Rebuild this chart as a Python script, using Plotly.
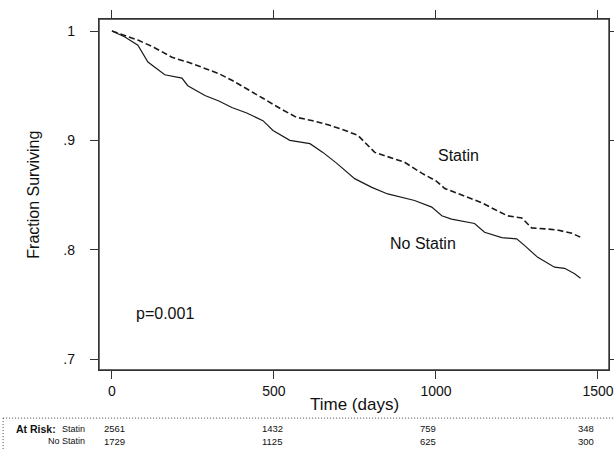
import plotly.graph_objects as go

# Kaplan-Meier estimates
statin_t = [0, 40, 80, 130, 185, 240, 287, 330, 370, 420, 466, 520, 570, 620, 672, 720, 759, 811, 860, 903, 956, 1000, 1027, 1080, 1141, 1180, 1221, 1265, 1295, 1340, 1375, 1420, 1449]
statin_s = [1.0, 0.996, 0.9917, 0.985, 0.976, 0.971, 0.966, 0.961, 0.955, 0.946, 0.9385, 0.929, 0.921, 0.918, 0.9138, 0.909, 0.9046, 0.889, 0.884, 0.880, 0.870, 0.863, 0.856, 0.850, 0.843, 0.837, 0.831, 0.829, 0.820, 0.819, 0.818, 0.815, 0.811]

nostatin_t = [0, 40, 80, 111, 163, 216, 234, 287, 330, 370, 416, 466, 497, 549, 611, 651, 694, 749, 802, 851, 934, 987, 1018, 1048, 1119, 1150, 1203, 1249, 1273, 1314, 1366, 1397, 1428, 1446]
nostatin_s = [1.0, 0.9945, 0.987, 0.9716, 0.960, 0.957, 0.950, 0.941, 0.936, 0.930, 0.925, 0.918, 0.909, 0.900, 0.897, 0.889, 0.879, 0.865, 0.857, 0.851, 0.845, 0.839, 0.831, 0.828, 0.824, 0.816, 0.811, 0.810, 0.804, 0.793, 0.784, 0.783, 0.778, 0.774]

x_ticks = [0, 500, 1000, 1500]
y_ticks = [0.7, 0.8, 0.9, 1.0]
y_tick_text = [".7", ".8", ".9", "1"]

risk_times = [0, 500, 1000, 1500]
risk_statin = [2561, 1432, 759, 348]
risk_nostatin = [1729, 1125, 625, 300]

FONT = "Liberation Sans, Arial, sans-serif"
INK = "#1a1a1a"
PLOT_W = 510.0

fig = go.Figure()
fig.add_trace(go.Scatter(x=statin_t, y=statin_s, mode="lines", name="Statin",
                         line=dict(color=INK, width=1.6, dash="6px,3px")))
fig.add_trace(go.Scatter(x=nostatin_t, y=nostatin_s, mode="lines", name="No Statin",
                         line=dict(color=INK, width=1.2)))

axis_common = dict(showgrid=False, zeroline=False, showline=True, linecolor="#333",
                   linewidth=1.4, ticks="outside", ticklen=8, tickwidth=1.1,
                   tickcolor="#333", mirror="ticks", automargin=False,
                   ticklabeloverflow="allow",
                   tickfont=dict(family=FONT, size=14, color="#111"))

fig.update_layout(
    width=614, height=449,
    margin=dict(l=99, r=5, t=19, b=79, autoexpand=False),
    paper_bgcolor="white", plot_bgcolor="white",
    showlegend=False,
    xaxis=dict(range=[-40, 1534], tickvals=x_ticks, ticklabelstandoff=0, **axis_common),
    yaxis=dict(range=[0.690, 1.011], tickvals=y_ticks, ticktext=y_tick_text,
               ticklabelstandoff=12, **axis_common),
    font=dict(family=FONT, color="#111"),
)

ann = []
lab = dict(showarrow=False, xanchor="center", yanchor="middle",
           font=dict(size=16, family=FONT, color="#111"))
ann.append(dict(text="Statin", x=1070, y=0.8862, xref="x", yref="y", **lab))
ann.append(dict(text="No Statin", x=959, y=0.8055, xref="x", yref="y", **lab))
ann.append(dict(text="p=0.001", x=163, y=0.7413, xref="x", yref="y", **lab))
ann.append(dict(text="Time (days)", x=0.5, y=-0.0969, xref="paper", yref="paper",
                showarrow=False, xanchor="center", yanchor="middle",
                font=dict(size=17, family=FONT, color="#111")))
ann.append(dict(text="Fraction Surviving", x=-0.129, y=0.5, xref="paper", yref="paper",
                textangle=-90, **lab))

row1_y = -0.168
row2_y = -0.2023
small = dict(showarrow=False, yanchor="middle", font=dict(size=9, family=FONT, color="#111"))
num = dict(showarrow=False, yanchor="middle", font=dict(size=9.5, family=FONT, color="#111"))
ann.append(dict(text="<b>At Risk:</b>", x=-0.1667, y=row1_y, xref="paper", yref="paper",
                xanchor="left", yanchor="middle", showarrow=False,
                font=dict(size=10.5, family=FONT, color="#111")))
ann.append(dict(text="Statin", x=-0.0235, y=row1_y, xref="paper", yref="paper",
                xanchor="right", **small))
ann.append(dict(text="No Statin", x=-0.0235, y=row2_y, xref="paper", yref="paper",
                xanchor="right", **small))
# at-risk columns: the table uses its own scale (0 -> 3px, 1500 -> 477px from plot left)
for t, a, b in zip(risk_times, risk_statin, risk_nostatin):
    px = (3 + t * 0.316) / PLOT_W
    ann.append(dict(text=str(a), x=px, y=row1_y, xref="paper", yref="paper", xanchor="left", **num))
    ann.append(dict(text=str(b), x=px, y=row2_y, xref="paper", yref="paper", xanchor="left", **num))
fig.update_layout(annotations=ann)

# plot frame
fig.add_shape(type="rect", xref="paper", yref="paper", x0=0, x1=1, y0=0, y1=1,
              line=dict(color="#333", width=1.4), layer="above")

# dotted frame of the at-risk table
top = -0.137
fig.add_shape(type="line", xref="paper", yref="paper", x0=-0.188, x1=1.0098, y0=top, y1=top,
              line=dict(color="#444", width=1, dash="1px,2px"))
fig.add_shape(type="line", xref="paper", yref="paper", x0=-0.188, x1=-0.188, y0=top, y1=-0.225,
              line=dict(color="#444", width=1, dash="1px,2px"))

fig.write_html("out.html", config={"displayModeBar": False},
               post_script="document.body.style.margin='0';document.body.style.padding='0';")
